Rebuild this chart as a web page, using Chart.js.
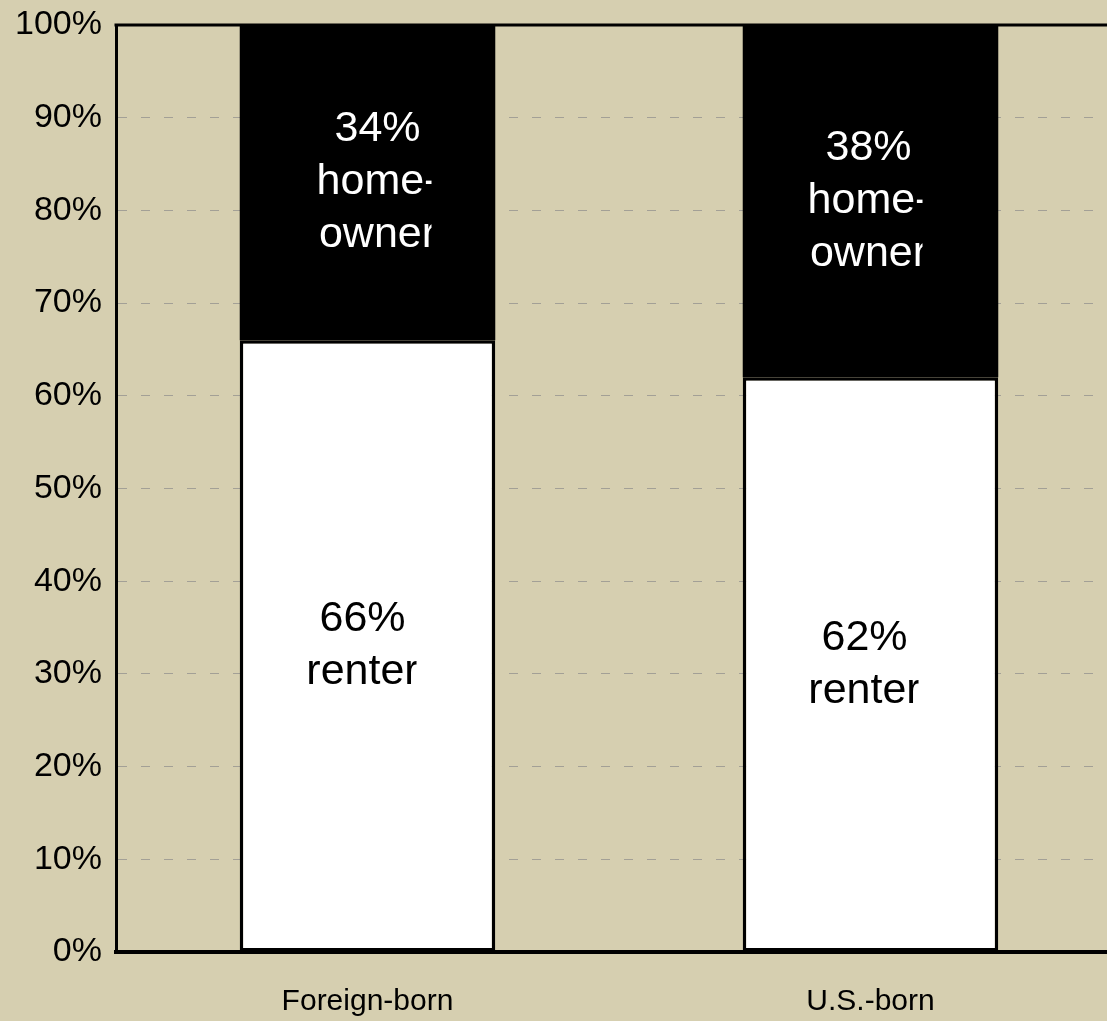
<!DOCTYPE html>
<html>
<head>
<meta charset="utf-8">
<script src="https://cdn.jsdelivr.net/npm/chart.js@4/dist/chart.umd.min.js"></script>
<style>
    html, body { margin: 0; padding: 0; background: #d6cfb0; }
    #wrap { width: 1107px; height: 1021px; overflow: hidden; position: relative; }
    #chart { display: block; }
</style>
</head>
<body>
<div id="wrap"><canvas id="chart" width="1130" height="1021"></canvas></div>
<script>
// Chart data
const categories = ['Foreign-born', 'U.S.-born'];
const renterShare = [66, 62];
const ownerShare = [34, 38];
const yTicks = [0, 10, 20, 30, 40, 50, 60, 70, 80, 90, 100];

const FONT = "'Liberation Sans', Arial, sans-serif";

// Labels drawn inside each segment, clipped on the right like the original
const segmentLabels = {
    id: 'segmentLabels',
    afterDatasetsDraw(chart) {
        const ctx = chart.ctx;
        const sets = [
            { index: 0, color: '#000', lines: v => [v + '%', 'renter'], dx: [-5, -6] },
            { index: 1, color: '#fff', lines: v => [v + '%', 'home-', 'owner'], dx: [10, -2] }
        ];
        sets.forEach(set => {
            const meta = chart.getDatasetMeta(set.index);
            const values = chart.data.datasets[set.index].data;
            meta.data.forEach((bar, i) => {
                const lines = set.lines(values[i]);
                const cx = bar.x + set.dx[i];
                const cy = (bar.y + bar.base) / 2;
                const lineHeight = 53;
                ctx.save();
                ctx.beginPath();
                ctx.rect(bar.x - bar.width / 2, bar.y, (cx + 54) - (bar.x - bar.width / 2), bar.base - bar.y);
                ctx.clip();
                ctx.fillStyle = set.color;
                ctx.font = '43px ' + FONT;
                ctx.textAlign = 'center';
                ctx.textBaseline = 'middle';
                lines.forEach((line, k) => {
                    ctx.fillText(line, cx, cy + (k - (lines.length - 1) / 2) * lineHeight);
                });
                ctx.restore();
            });
        });

        // top frame line
        const area = chart.chartArea;
        ctx.save();
        ctx.strokeStyle = '#000';
        ctx.lineWidth = 3;
        ctx.beginPath();
        ctx.moveTo(area.left - 1.5, area.top);
        ctx.lineTo(chart.width, area.top);
        ctx.stroke();
        ctx.restore();
    }
};

const bgPlugin = {
    id: 'bg',
    beforeDraw(chart) {
        const ctx = chart.ctx;
        ctx.save();
        ctx.fillStyle = '#d6cfb0';
        ctx.fillRect(0, 0, chart.width, chart.height);
        ctx.restore();
    }
};

new Chart(document.getElementById('chart'), {
    type: 'bar',
    data: {
        labels: categories,
        datasets: [
            {
                label: 'renter',
                data: renterShare,
                backgroundColor: '#ffffff',
                borderColor: '#000000',
                borderWidth: 3.5,
                borderSkipped: false
            },
            {
                label: 'home-owner',
                data: ownerShare,
                backgroundColor: '#000000',
                borderWidth: 0
            }
        ]
    },
    options: {
        responsive: false,
        animation: false,
        layout: { padding: { top: 25, right: 8, bottom: 0, left: 0 } },
        categoryPercentage: 0.508,
        barPercentage: 1,
        plugins: {
            legend: { display: false },
            tooltip: { enabled: false }
        },
        scales: {
            x: {
                stacked: true,
                grid: { display: false, drawTicks: false },
                border: { display: true, color: '#000', width: 4 },
                ticks: {
                    color: '#000',
                    font: { family: FONT, size: 30 },
                    padding: 32
                },
                afterFit(scale) { scale.height = 69; }
            },
            y: {
                stacked: true,
                min: 0,
                max: 100,
                afterBuildTicks(scale) {
                    scale.ticks = yTicks.map(v => ({ value: v }));
                },
                grid: {
                    drawTicks: false,
                    lineWidth: 1,
                    color: ctx => (ctx.tick && (ctx.tick.value === 0 || ctx.tick.value === 100)) ? 'rgba(0,0,0,0)' : '#a3a096'
                },
                border: { display: true, color: '#000', width: 3, dash: [9, 14] },
                ticks: {
                    color: '#000',
                    font: { family: FONT, size: 34 },
                    padding: 14,
                    callback: v => v + '%'
                },
                afterFit(scale) {
                    scale.width = 116;
                    scale.paddingTop = 0;
                    scale.paddingBottom = 0;
                }
            }
        }
    },
    plugins: [bgPlugin, segmentLabels]
});
</script>
</body>
</html>
